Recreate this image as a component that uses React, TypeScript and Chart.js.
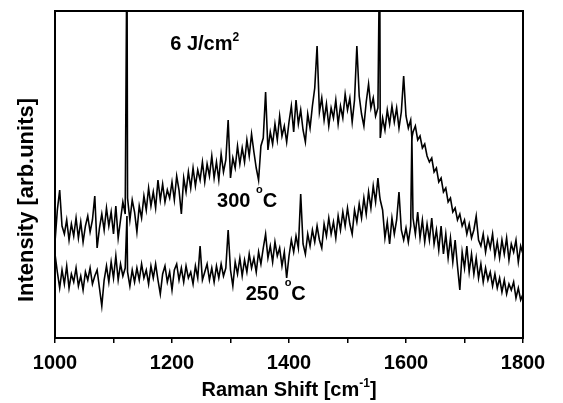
import { useEffect, useRef } from 'react';
import { Chart, registerables } from 'chart.js';

Chart.register(...registerables);

// Raman shift sampling (cm^-1)
const ramanShift = [
  1000, 1004, 1008, 1012, 1016, 1020, 1024, 1028, 1032, 1036,
  1040, 1044, 1048, 1052, 1056, 1060, 1064, 1068, 1072, 1076,
  1080, 1084, 1088, 1092, 1096, 1100, 1104, 1108, 1112, 1116,
  1120, 1123, 1124, 1128, 1132, 1136, 1140, 1144, 1148, 1152, 1156,
  1160, 1164, 1168, 1172, 1176, 1180, 1184, 1188, 1192, 1196,
  1200, 1204, 1208, 1212, 1216, 1220, 1224, 1228, 1232, 1236,
  1240, 1244, 1248, 1252, 1256, 1260, 1264, 1268, 1272, 1276,
  1280, 1284, 1288, 1292, 1296, 1300, 1304, 1308, 1312, 1316,
  1320, 1324, 1328, 1332, 1336, 1340, 1344, 1348, 1352, 1356,
  1360, 1364, 1368, 1372, 1376, 1380, 1384, 1388, 1392, 1396,
  1400, 1404, 1408, 1412, 1416, 1420, 1424, 1428, 1432, 1436,
  1440, 1444, 1448, 1452, 1456, 1460, 1464, 1468, 1472, 1476,
  1480, 1484, 1488, 1492, 1496, 1500, 1504, 1508, 1512, 1516,
  1520, 1524, 1528, 1532, 1536, 1540, 1544, 1548, 1552, 1555, 1556,
  1560, 1564, 1568, 1572, 1576, 1580, 1584, 1588, 1592, 1596,
  1600, 1604, 1608, 1610, 1612, 1616, 1620, 1624, 1628, 1632, 1636,
  1640, 1644, 1648, 1652, 1656, 1660, 1664, 1668, 1672, 1676,
  1680, 1684, 1688, 1692, 1696, 1700, 1704, 1708, 1712, 1716,
  1720, 1724, 1728, 1732, 1736, 1740, 1744, 1748, 1752, 1756,
  1760, 1764, 1768, 1772, 1776, 1780, 1784, 1788, 1792, 1796,
  1800,
];

// Intensity (arb. units), 300 °C spectrum
const intensity300C = [
  96, 128, 148, 112, 104, 118, 98, 114, 102, 120,
  100, 116, 96, 112, 122, 106, 118, 142, 90, 110,
  124, 108, 130, 112, 126, 104, 132, 100, 118, 136,
  124, 400, 140, 118, 138, 126, 106, 132, 120, 142, 128,
  150, 132, 146, 130, 158, 138, 154, 136, 148, 140,
  156, 138, 162, 148, 124, 160, 146, 166, 150, 170,
  152, 168, 158, 176, 156, 174, 162, 182, 160, 176,
  158, 184, 166, 178, 218, 160, 180, 170, 192, 174,
  190, 176, 198, 182, 204, 186, 170, 158, 192, 200,
  246, 188, 206, 194, 214, 198, 222, 202, 212, 196,
  216, 232, 206, 238, 214, 228, 208, 196, 224, 210,
  232, 250, 292, 226, 240, 218, 234, 212, 230, 220,
  238, 214, 232, 220, 244, 228, 240, 216, 238, 292,
  242, 224, 212, 236, 254, 230, 240, 222, 230, 400, 200,
  220, 208, 228, 214, 232, 216, 230, 210, 226, 262,
  222, 210, 218, 200, 206, 212, 198, 202, 190, 194, 182,
  176, 180, 166, 170, 156, 160, 146, 150, 136, 140,
  126, 130, 118, 124, 112, 118, 104, 114, 100, 108,
  122, 98, 92, 104, 86, 100, 90, 104, 82, 96,
  80, 98, 84, 100, 78, 94, 86, 98, 76, 92,
  84,
];

// Intensity (arb. units), 250 °C spectrum
const intensity250C = [
  84, 66, 50, 68, 54, 72, 50, 64, 56, 70,
  52, 62, 48, 66, 58, 70, 54, 62, 68, 50,
  32, 58, 72, 56, 76, 60, 82, 58, 74, 62,
  70, 122, 66, 52, 68, 56, 70, 58, 74, 60, 68,
  54, 72, 60, 74, 58, 44, 64, 72, 56, 66,
  48, 68, 74, 58, 70, 56, 72, 60, 66, 54,
  72, 60, 92, 58, 66, 74, 58, 70, 56, 72,
  60, 74, 62, 70, 108, 68, 52, 76, 64, 80,
  62, 78, 66, 84, 70, 80, 66, 86, 74, 90,
  104, 80, 92, 76, 96, 82, 90, 72, 86, 60,
  82, 98, 86, 102, 90, 144, 94, 84, 104, 92,
  108, 96, 112, 98, 90, 114, 102, 120, 104, 116,
  100, 122, 108, 126, 112, 130, 114, 104, 128, 116,
  134, 120, 140, 124, 146, 130, 152, 136, 160, 142, 138,
  128, 100, 116, 94, 120, 104, 118, 146, 108, 98,
  110, 96, 112, 202, 120, 104, 126, 100, 118, 96, 114,
  98, 120, 94, 108, 88, 112, 84, 104, 80, 100,
  76, 98, 72, 48, 86, 70, 92, 66, 84, 64,
  80, 60, 74, 56, 70, 58, 66, 52, 64, 50,
  60, 46, 58, 44, 54, 48, 56, 40, 50, 38,
  44,
];

const xTickLabels = [1000, 1200, 1400, 1600, 1800];

const FONT = '"Liberation Sans", Arial, Helvetica, sans-serif';

type Part = { text: string; size: number; rise: number };

function drawParts(
  ctx: CanvasRenderingContext2D,
  parts: Part[],
  x: number,
  baseline: number,
  align: 'left' | 'center'
) {
  let total = 0;
  const widths: number[] = [];
  for (const p of parts) {
    ctx.font = `bold ${p.size}px ${FONT}`;
    const w = ctx.measureText(p.text).width;
    widths.push(w);
    total += w;
  }
  let cx = align === 'center' ? x - total / 2 : x;
  ctx.textAlign = 'left';
  ctx.textBaseline = 'alphabetic';
  parts.forEach((p, i) => {
    ctx.font = `bold ${p.size}px ${FONT}`;
    ctx.fillText(p.text, cx, baseline - p.rise);
    cx += widths[i];
  });
}

const decorPlugin = {
  id: 'decor',
  afterDraw(chart: any) {
    const { ctx, chartArea, scales } = chart;
    const { left, top, right, bottom } = chartArea;
    ctx.save();
    ctx.strokeStyle = '#000';
    ctx.lineWidth = 2;
    ctx.strokeRect(left, top, right - left, bottom - top);

    ctx.fillStyle = '#000';
    drawParts(
      ctx,
      [
        { text: 'Raman Shift [cm', size: 20, rise: 0 },
        { text: '-1', size: 12, rise: 9 },
        { text: ']', size: 20, rise: 0 },
      ],
      (left + right) / 2,
      396,
      'center'
    );

    const xs = scales.x;
    const ys = scales.y;
    drawParts(
      ctx,
      [
        { text: '6 J/cm', size: 20, rise: 0 },
        { text: '2', size: 12, rise: 9 },
      ],
      xs.getPixelForValue(1197),
      ys.getPixelForValue(288),
      'left'
    );
    drawParts(
      ctx,
      [
        { text: '300 ', size: 20, rise: 0 },
        { text: 'o', size: 11, rise: 14 },
        { text: 'C', size: 20, rise: 0 },
      ],
      xs.getPixelForValue(1277),
      ys.getPixelForValue(131),
      'left'
    );
    drawParts(
      ctx,
      [
        { text: '250 ', size: 20, rise: 0 },
        { text: 'o', size: 11, rise: 14 },
        { text: 'C', size: 20, rise: 0 },
      ],
      xs.getPixelForValue(1326),
      ys.getPixelForValue(38),
      'left'
    );

    ctx.translate(33, 200);
    ctx.rotate(-Math.PI / 2);
    ctx.font = `bold 22px ${FONT}`;
    ctx.textAlign = 'center';
    ctx.textBaseline = 'alphabetic';
    ctx.fillText('Intensity [arb.units]', 0, 0);
    ctx.restore();
  },
};

export default function App() {
  const canvasRef = useRef<HTMLCanvasElement | null>(null);

  useEffect(() => {
    document.body.style.margin = '0';
    const canvas = canvasRef.current;
    if (!canvas) return;
    const chart = new Chart(canvas, {
      type: 'line',
      data: {
        datasets: [
          {
            label: '300 °C',
            data: ramanShift.map((x, i) => ({ x, y: intensity300C[i] })),
            borderColor: '#000',
            borderWidth: 1.6,
            pointRadius: 0,
            tension: 0,
            fill: false,
          },
          {
            label: '250 °C',
            data: ramanShift.map((x, i) => ({ x, y: intensity250C[i] })),
            borderColor: '#000',
            borderWidth: 1.6,
            pointRadius: 0,
            tension: 0,
            fill: false,
          },
        ],
      },
      options: {
        responsive: false,
        animation: false,
        layout: { padding: { left: 0, right: 40, top: 11, bottom: 0 } },
        plugins: {
          legend: { display: false },
          tooltip: { enabled: false },
        },
        scales: {
          x: {
            type: 'linear',
            min: 1000,
            max: 1800,
            afterFit(scale: any) {
              scale.height = 65;
            },
            border: { display: false },
            grid: {
              display: true,
              drawOnChartArea: false,
              drawTicks: true,
              tickLength: 5,
              color: '#000',
              lineWidth: 1.5,
            },
            ticks: {
              stepSize: 100,
              autoSkip: false,
              maxRotation: 0,
              padding: 8,
              color: '#000',
              font: { family: FONT, size: 20, weight: 'bold' },
              callback: (v: any) => (xTickLabels.includes(Number(v)) ? String(v) : ''),
            },
          },
          y: {
            min: 0,
            max: 327,
            afterFit(scale: any) {
              scale.width = 55;
            },
            border: { display: false },
            grid: { display: false },
            ticks: { display: false },
          },
        },
      },
      plugins: [decorPlugin],
    });
    return () => chart.destroy();
  }, []);

  return (
    <div style={{ width: 563, height: 403, background: '#fff' }}>
      <canvas ref={canvasRef} width={563} height={403} style={{ display: 'block' }} />
    </div>
  );
}
